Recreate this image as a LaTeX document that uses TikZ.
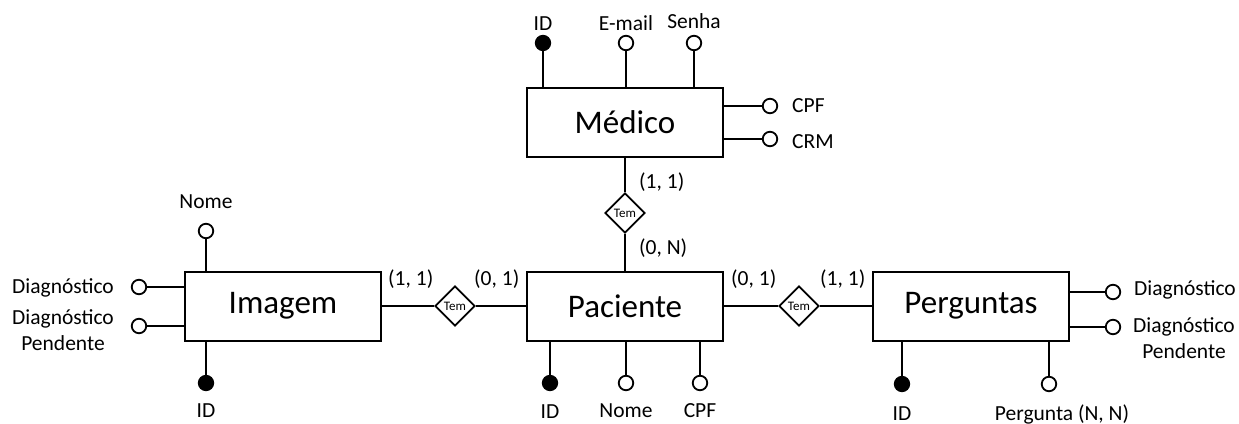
\documentclass[tikz,border=0pt]{standalone}
\usepackage{fontspec}
\setmainfont{Carlito}
\usetikzlibrary{shapes.geometric}

\begin{document}
\begin{tikzpicture}[x=1pt,y=-1pt,
  entity/.style={draw, line width=2pt, minimum width=196pt, minimum height=69pt,
    inner sep=0pt, font=\fontsize{33}{33}\selectfont},
  rel/.style={draw, diamond, aspect=1, line width=1.7pt, minimum width=40pt,
    minimum height=40pt, inner sep=0pt, font=\fontsize{13}{13}\selectfont},
  attr/.style={draw, circle, line width=1.8pt, minimum size=14.5pt, inner sep=0pt, fill=white},
  keyattr/.style={attr, fill=black},
  lbl/.style={font=\fontsize{21.5}{26}\selectfont, inner sep=0pt},
  card/.style={lbl, anchor=base west},
  thinline/.style={line width=1.1pt},
  strongline/.style={line width=2.2pt}
]
\useasboundingbox (0,0) rectangle (1239,423);

% entities
\node[entity] (medico)    at (625,122.5) {Médico};
\node[entity] (paciente)  at (625,306)   {Paciente};
\node[entity] (imagem)    at (283,306)   {Imagem};
\node[entity] (perguntas) at (971,306)   {Perguntas};

% relationships
\node[rel] (tem-mp) at (625,213) {Tem};
\node[rel] (tem-ip) at (455,306) {Tem};
\node[rel] (tem-pp) at (799,306) {Tem};

\draw[thinline]   (medico) -- (tem-mp);
\draw[strongline] (tem-mp) -- (paciente);
\draw[thinline]   (imagem) -- (tem-ip);
\draw[strongline] (tem-ip) -- (paciente);
\draw[strongline] (paciente) -- (tem-pp);
\draw[thinline]   (tem-pp) -- (perguntas);

% cardinalities
\node[card] (c-m)  at (639,188) {(1, 1)};
\node[card] (c-pm) at (639,254) {(0, N)};
\node[card] (c-i)  at (388,285) {(1, 1)};
\node[card] (c-pi) at (474,285) {(0, 1)};
\node[card] (c-pq) at (731,285) {(0, 1)};
\node[card] (c-q)  at (820,285) {(1, 1)};

% Médico attributes
\node[keyattr] (m-id)    at (543,43) {};
\node[attr]    (m-email) at (626,43) {};
\node[attr]    (m-senha) at (694,43) {};
\node[attr]    (m-cpf)   at (770,106) {};
\node[attr]    (m-crm)   at (770,139) {};
\draw[thinline] (m-id)    -- (m-id |- medico.north);
\draw[thinline] (m-email) -- (m-email |- medico.north);
\draw[thinline] (m-senha) -- (m-senha |- medico.north);
\draw[thinline] (m-cpf)   -- (m-cpf -| medico.east);
\draw[thinline] (m-crm)   -- (m-crm -| medico.east);
\node[lbl, anchor=base] (m-id-l)    at (543,30) {ID};
\node[lbl, anchor=base] (m-email-l) at (626,30) {E-mail};
\node[lbl, anchor=base] (m-senha-l) at (694,28) {Senha};
\node[lbl, anchor=base west] (m-cpf-l) at (792,112) {CPF};
\node[lbl, anchor=base west] (m-crm-l) at (792,148) {CRM};

% Imagem attributes
\node[attr]    (i-nome)  at (206,231) {};
\node[keyattr] (i-id)    at (206,383) {};
\node[attr]    (i-diag)  at (139,287) {};
\node[attr]    (i-pend)  at (139,326) {};
\draw[thinline] (i-nome) -- (i-nome |- imagem.north);
\draw[thinline] (i-id)   -- (i-id |- imagem.south);
\draw[thinline] (i-diag) -- (i-diag -| imagem.west);
\draw[thinline] (i-pend) -- (i-pend -| imagem.west);
\node[lbl, anchor=base] (i-nome-l) at (206,208) {Nome};
\node[lbl, anchor=base] (i-id-l)   at (206,417) {ID};
\node[lbl, anchor=base east] (i-diag-l) at (114,293) {Diagnóstico};
\node[lbl, anchor=base, align=center] (i-pend-l) at (63,350) {Diagnóstico\\Pendente};

% Paciente attributes
\node[keyattr] (p-id)   at (550,383) {};
\node[attr]    (p-nome) at (626,383) {};
\node[attr]    (p-cpf)  at (700,383) {};
\draw[thinline] (p-id)   -- (p-id |- paciente.south);
\draw[thinline] (p-nome) -- (p-nome |- paciente.south);
\draw[thinline] (p-cpf)  -- (p-cpf |- paciente.south);
\node[lbl, anchor=base] (p-id-l)   at (550,418) {ID};
\node[lbl, anchor=base] (p-nome-l) at (626,417) {Nome};
\node[lbl, anchor=base] (p-cpf-l)  at (700,417) {CPF};

% Perguntas attributes
\node[keyattr] (q-id)   at (902,384) {};
\node[attr]    (q-perg) at (1049,384) {};
\node[attr]    (q-diag) at (1113,292) {};
\node[attr]    (q-pend) at (1113,327) {};
\draw[thinline] (q-id)   -- (q-id |- perguntas.south);
\draw[thinline] (q-perg) -- (q-perg |- perguntas.south);
\draw[thinline] (q-diag) -- (q-diag -| perguntas.east);
\draw[thinline] (q-pend) -- (q-pend -| perguntas.east);
\node[lbl, anchor=base] (q-id-l)   at (902,420) {ID};
\node[lbl, anchor=base] (q-perg-l) at (1062,420) {Pergunta (N, N)};
\node[lbl, anchor=base west] (q-diag-l) at (1134,295) {Diagnóstico};
\node[lbl, anchor=base, align=center] (q-pend-l) at (1184,358) {Diagnóstico\\Pendente};
\end{tikzpicture}
\end{document}
